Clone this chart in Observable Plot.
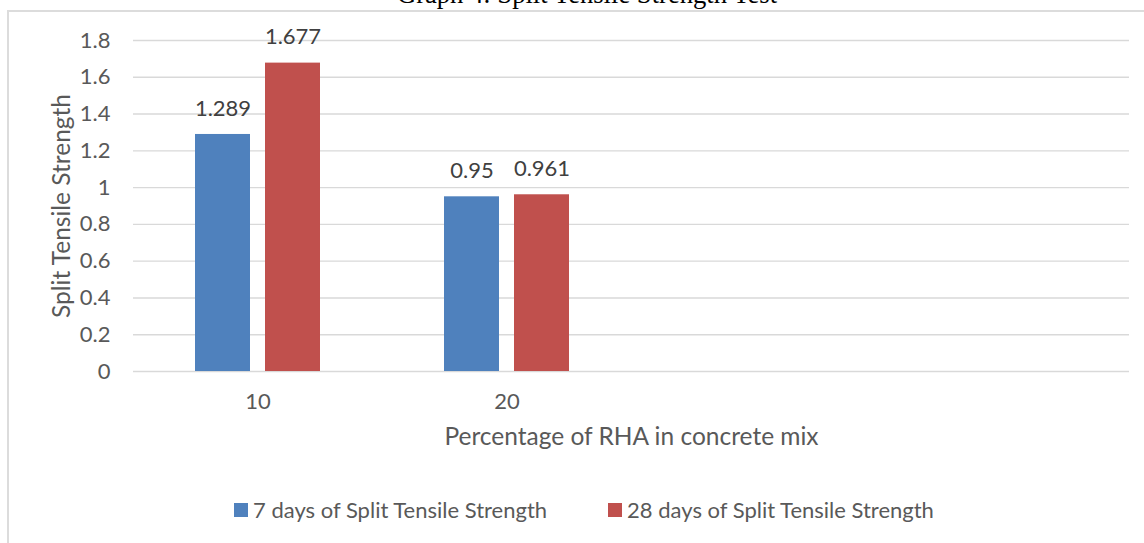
<!DOCTYPE html>
<html>
<head>
<meta charset="utf-8">
<script src="https://cdn.jsdelivr.net/npm/d3@7"></script>
<script src="https://cdn.jsdelivr.net/npm/@observablehq/plot@0.6"></script>
<style>
  html, body { margin: 0; padding: 0; background: #fff; }
  #wrap { position: relative; width: 1144px; height: 543px; overflow: hidden; background: #fff; }
  #frame { position: absolute; left: 7px; top: 10px; width: 1300px; height: 700px; border: 2px solid #dcdcdc; box-sizing: border-box; }
  #title { position: absolute; left: 0; width: 1174px; top: -19px; text-align: center; font-family: "Liberation Serif", serif; font-size: 26.6px; line-height: 26.6px; color: #000; white-space: nowrap; }
  #chart { position: absolute; left: 0; top: 0; }
  #legend { position: absolute; top: 496px; left: 0; width: 1168px; display: flex; justify-content: center; gap: 61px; font-family: Lato, sans-serif; font-size: 22px; color: #595959; line-height: 28px; }
  .item { display: flex; align-items: center; gap: 5px; white-space: nowrap; }
  .sw { width: 14px; height: 14px; display: inline-block; }
</style>
</head>
<body>
<div id="wrap">
  <div id="frame"></div>
  <div id="title"></div>
  <div id="chart"></div>
  <div id="legend"></div>
</div>
<script>
// ---- data ----
const titleText = "Graph 4: Split Tensile Strength Test";
const categories = ["10", "20"];
const emptySlots = ["", " "];
const series = ["7 days of Split Tensile Strength", "28 days of Split Tensile Strength"];
const days7 = [1.289, 0.95];
const days28 = [1.677, 0.961];
const colors = ["#4f81bd", "#c0504d"];
const yTicks = [0, 0.2, 0.4, 0.6, 0.8, 1, 1.2, 1.4, 1.6, 1.8];
const xTitle = "Percentage of RHA in concrete mix";
const yTitle = "Split Tensile Strength";

const data = [];
categories.forEach((c, i) => {
  data.push({cat: c, series: series[0], value: days7[i]});
  data.push({cat: c, series: series[1], value: days28[i]});
});

document.getElementById("title").textContent = titleText;

const gridStyle = {stroke: "#d9d9d9", strokeWidth: 1.4};

const plot = Plot.plot({
  width: 1144,
  height: 480,
  marginLeft: 133,
  marginRight: 15,
  marginTop: 40,
  marginBottom: 109,
  style: {background: "transparent", fontFamily: "Lato, sans-serif", color: "#595959", overflow: "visible"},
  fx: {domain: categories.concat(emptySlots), padding: 0, label: null},
  x: {domain: series, paddingInner: 0.211, paddingOuter: 0.8625, axis: null},
  y: {domain: [0, 1.8], axis: null},
  color: {domain: series, range: colors},
  marks: [
    Plot.ruleY(yTicks, {...gridStyle}),
    Plot.ruleY(yTicks, {...gridStyle, facetAnchor: "empty"}),
    Plot.axisY({ticks: yTicks, tickSize: 0, tickPadding: 23, tickFormat: d => String(+d.toFixed(1)), fontSize: 22, fill: "#595959", label: null}),
    Plot.axisFx({anchor: "bottom", tickSize: 0, tickPadding: 22, fontSize: 22, fill: "#595959", label: null}),
    Plot.barY(data, {fx: "cat", x: "series", y: "value", fill: "series"}),
    Plot.text(data, {fx: "cat", x: "series", y: "value", text: d => String(d.value), dy: -26, fontSize: 22, fill: "#404040"}),
    Plot.text([xTitle], {text: d => d, frameAnchor: "bottom", lineAnchor: "middle", textAnchor: "middle", dy: 66, facet: "super", fontSize: 24.5, fill: "#595959"}),
    Plot.text([yTitle], {text: d => d, frameAnchor: "left", lineAnchor: "middle", textAnchor: "middle", dx: -71, rotate: -90, facet: "super", fontSize: 24.5, fill: "#595959"})
  ]
});
document.getElementById("chart").appendChild(plot);

const legend = document.getElementById("legend");
series.forEach((s, i) => {
  const item = document.createElement("div");
  item.className = "item";
  const sw = document.createElement("span");
  sw.className = "sw";
  sw.style.background = colors[i];
  const label = document.createElement("span");
  label.textContent = s;
  item.appendChild(sw);
  item.appendChild(label);
  legend.appendChild(item);
});
</script>
</body>
</html>
